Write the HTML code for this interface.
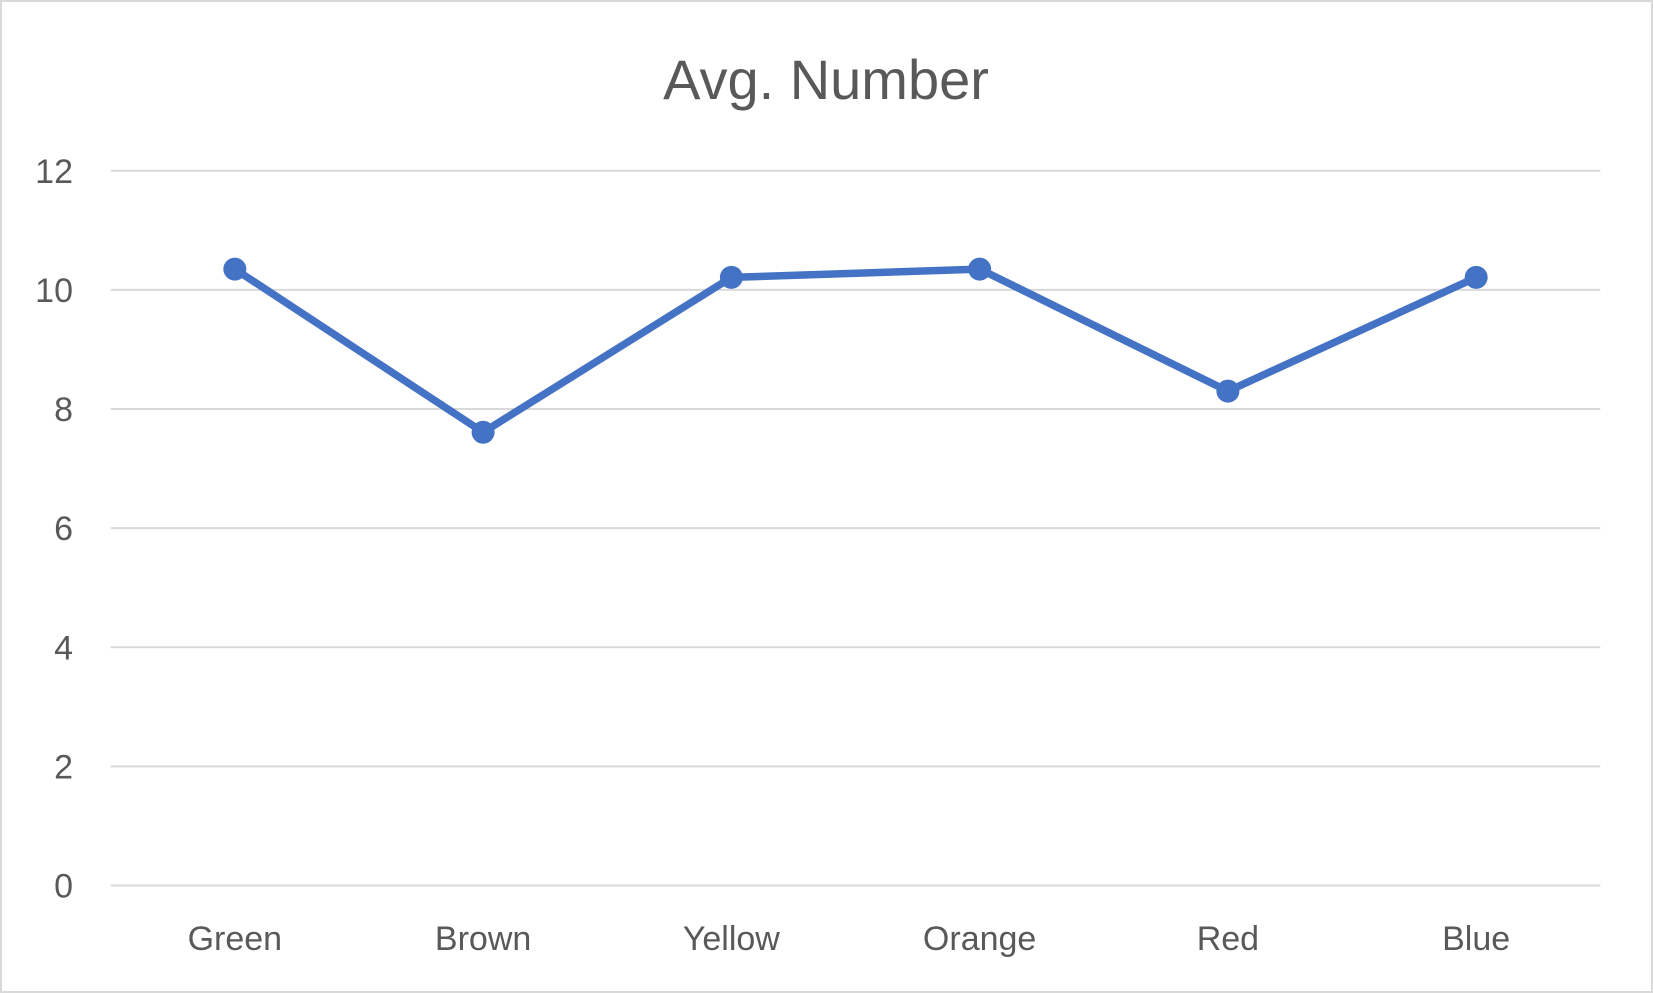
<!DOCTYPE html>
<html><head><meta charset="utf-8"><style>
html,body{margin:0;padding:0;background:#fff;}
svg{display:block;font-family:"Liberation Sans",sans-serif;}
</style></head><body>
<svg id="chart" width="1653" height="993" viewBox="0 0 1653 993">
<rect x="1" y="1" width="1651" height="991" fill="#fff" stroke="#d9d9d9" stroke-width="2"/>
<text x="826" y="99" text-anchor="middle" font-size="56" fill="#595959">Avg. Number</text>
<g id="grid"></g><g id="yt"></g><g id="xt"></g><g id="series"></g>
</svg>
<script>
const categories=["Green","Brown","Yellow","Orange","Red","Blue"];
const values=[10.35,7.61,10.21,10.35,8.30,10.21];
const yTicks=[0,2,4,6,8,10,12];
const NS="http://www.w3.org/2000/svg";
const x0=110.7,x1=1600.3,yBot=885.5,yTop=170.8,yMax=12;
const band=(x1-x0)/categories.length;
const xs=i=>x0+band*(i+0.5);
const ys=v=>yBot-(v/yMax)*(yBot-yTop);
function mk(tag,attrs,parent){const e=document.createElementNS(NS,tag);for(const k in attrs)e.setAttribute(k,attrs[k]);parent.appendChild(e);return e;}
const grid=document.getElementById('grid'),yt=document.getElementById('yt'),xt=document.getElementById('xt'),ser=document.getElementById('series');
yTicks.forEach(t=>{
const l=mk('line',{x1:x0,x2:x1,y1:ys(t),y2:ys(t),stroke:'#d9d9d9','stroke-width':2},grid);


const tx=mk('text',{x:73,y:ys(t)+12,'text-anchor':'end','font-size':34,fill:'#595959'},yt);
tx.textContent=t;


});
categories.forEach((c,i)=>{
const tx=mk('text',{x:xs(i),y:950,'text-anchor':'middle','font-size':34,fill:'#595959'},xt);
tx.textContent=c;


});
const pts=values.map((v,i)=>xs(i)+','+ys(v)).join(' ');
const pl=mk('polyline',{points:pts,fill:'none',stroke:'#4472C4','stroke-width':7.5,'stroke-linejoin':'round'},ser);


values.forEach((v,i)=>{
const c=mk('circle',{cx:xs(i),cy:ys(v),r:11.5,fill:'#4472C4'},ser);


});
</script>
</body></html>
